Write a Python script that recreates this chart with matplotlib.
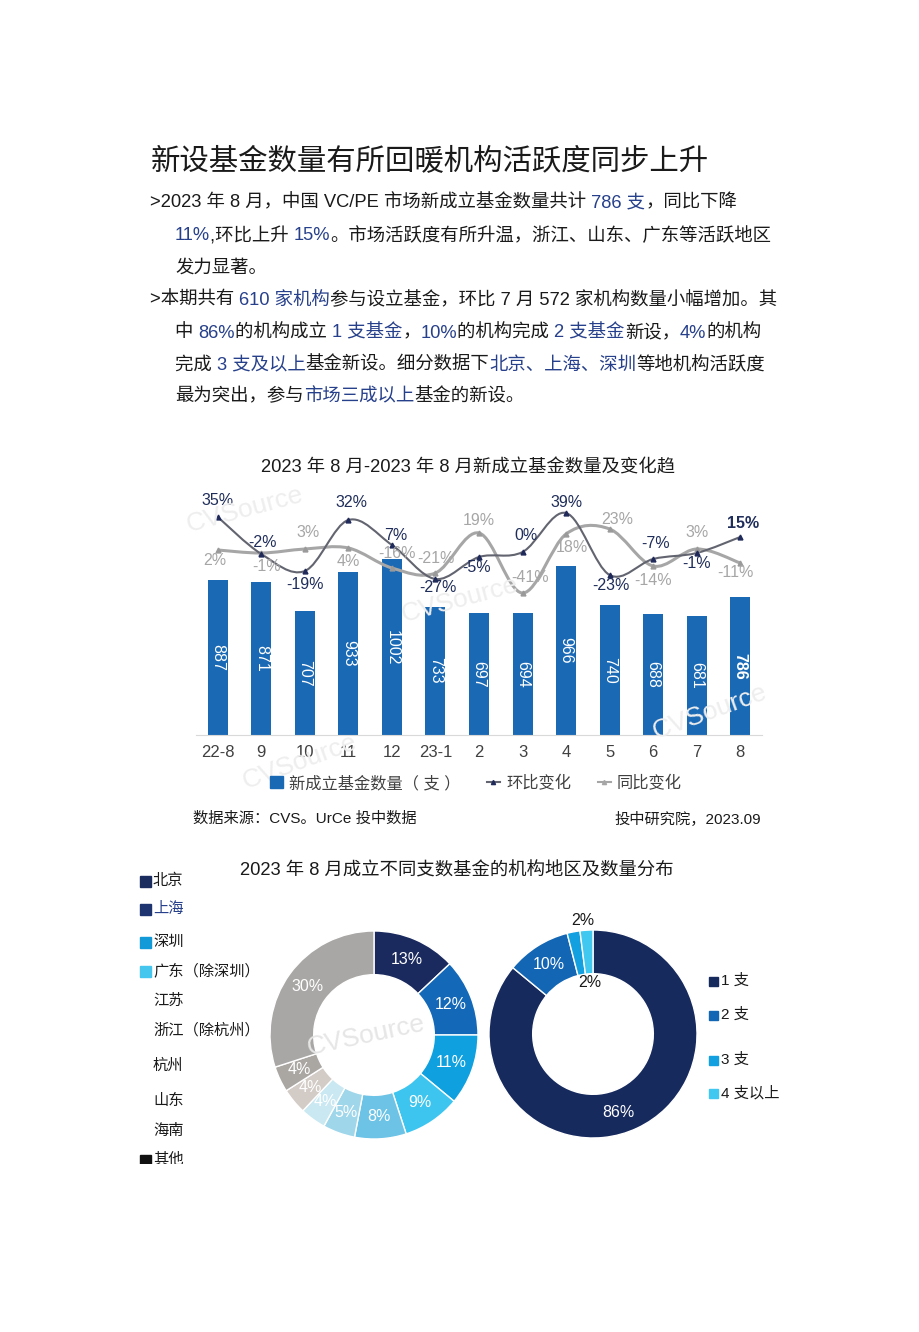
import matplotlib
matplotlib.use('Agg')
import matplotlib.pyplot as plt
from matplotlib.path import Path
from matplotlib.patches import PathPatch, Rectangle
from matplotlib.lines import Line2D
import numpy as np

plt.rcParams['font.family'] = ['Liberation Sans', 'Noto Sans CJK SC', 'DejaVu Sans']

# ---- data ----
months = ['22-8', '9', '10', '11', '12', '23-1', '2', '3', '4', '5', '6', '7', '8']
funds = [887, 871, 707, 933, 1002, 733, 697, 694, 966, 740, 688, 681, 786]
mom = [35, -2, -19, 32, 7, -27, -5, 0, 39, -23, -7, -1, 15]      # 环比
yoy = [2, -1, 3, 4, -16, -21, 19, -41, 18, 23, -14, 3, -11]      # 同比

regions = ['北京', '上海', '深圳', '广东（除深圳）', '江苏', '浙江（除杭州）',
           '杭州', '山东', '海南', '其他']
region_share = [13, 12, 11, 9, 8, 5, 4, 4, 4, 30]

fund_counts = ['1 支', '2 支', '3 支', '4 支以上']
count_share = [86, 10, 2, 2]

W, H = 920, 1332
BLUE = '#27408b'
TXT = '#1a1a1a'

fig = plt.figure(figsize=(W / 100, H / 100), dpi=100)
fig.patch.set_facecolor('white')
renderer = fig.canvas.get_renderer()


def fx(x):
    return x / W


def fy(y):
    return 1 - y / H


def rich_line(x, y, segs, size):
    # draw text segments of different colours one after another
    for s, c in segs:
        t = fig.text(fx(x), fy(y), s, color=c, fontsize=size, va='center', ha='left')
        bb = t.get_window_extent(renderer=renderer)
        x += bb.width


# ---- heading and paragraphs ----
fig.text(fx(151), fy(162), '新设基金数量有所回暖机构活跃度同步上升', fontsize=21.2,
         color=TXT, va='center', ha='left')

ps = 13.25
rich_line(150, 203, [('>2023 年 8 月，中国 VC/PE 市场新成立基金数量共计 ', TXT),
                     ('786 支', BLUE), ('，同比下降', TXT)], ps)
rich_line(175, 236, [('11%', BLUE), (',环比上升 ', TXT), ('15%', BLUE),
                     ('。市场活跃度有所升温，浙江、山东、广东等活跃地区', TXT)], ps)
rich_line(175, 268, [('发力显著。', TXT)], ps)
rich_line(150, 300, [('>本期共有 ', TXT), ('610 家机构', BLUE),
                     ('参与设立基金，环比 7 月 572 家机构数量小幅增加。其', TXT)], ps)
rich_line(175, 333, [('中 ', TXT), ('86%', BLUE), ('的机构成立 ', TXT), ('1 支基金', BLUE),
                     ('，', TXT), ('10%', BLUE), ('的机构完成 ', TXT), ('2 支基金', BLUE),
                     ('新设，', TXT), ('4%', BLUE), ('的机构', TXT)], ps)
rich_line(175, 365, [('完成 ', TXT), ('3 支及以上', BLUE), ('基金新设。细分数据下', TXT),
                     ('北京、上海、深圳', BLUE), ('等地机构活跃度', TXT)], ps)
rich_line(175, 397, [('最为突出，参与', TXT), ('市场三成以上', BLUE), ('基金的新设。', TXT)], ps)

# ---- bar + line chart ----
fig.text(fx(468), fy(468), '2023 年 8 月-2023 年 8 月新成立基金数量及变化趋', fontsize=13.2,
         color=TXT, ha='center', va='center')

# watermarks
for wx, wy, rot in [(245, 510, 15), (460, 600, 15), (710, 712, 20), (300, 762, 20)]:
    fig.text(fx(wx), fy(wy), 'CVSource', fontsize=19, color='#eeeeee', rotation=rot,
             ha='center', va='center', zorder=0.5)

ax = fig.add_axes([fx(196), fy(735), 566 / W, 240 / H])
ax.patch.set_alpha(0)
x = np.arange(len(months))
ax.bar(x, funds, width=0.46, color='#1a69b5', zorder=2)
ax.set_xlim(-0.5, len(months) - 0.5)
ax.set_ylim(0, 240 / 0.1752)
ax.set_yticks([])
ax.set_xticks(x)
ax.set_xticklabels(months, fontsize=12, color='#404040')
ax.tick_params(axis='x', length=0, pad=7)
for sp in ['top', 'left', 'right']:
    ax.spines[sp].set_visible(False)
ax.spines['bottom'].set_color('#d9d9d9')
for i, v in enumerate(funds):
    ax.text(i, v / 2, str(v), rotation=-90, ha='center', va='center', color='white',
            fontsize=11.5, fontweight='bold' if i == len(funds) - 1 else 'normal', zorder=3)

ax2 = ax.twinx()
ax2.set_ylim(-183, 57)
ax2.axis('off')


def smooth(ax_, xs, ys, color, lw):
    pts = np.column_stack([xs, ys]).astype(float)
    ext = np.vstack([pts[0], pts, pts[-1]])
    verts = [pts[0]]
    codes = [Path.MOVETO]
    for i in range(len(pts) - 1):
        p0, p1, p2, p3 = ext[i], ext[i + 1], ext[i + 2], ext[i + 3]
        verts += [p1 + (p2 - p0) / 6, p2 - (p3 - p1) / 6, p2]
        codes += [Path.CURVE4] * 3
    ax_.add_patch(PathPatch(Path(verts, codes), fc='none', ec=color, lw=lw, zorder=4))


smooth(ax2, x, yoy, '#a6a6a6', 2.2)
smooth(ax2, x, mom, '#62646f', 1.5)
ax2.plot(x, yoy, ls='none', marker='^', ms=3.5, color='#9a9a9a', zorder=5)
ax2.plot(x, mom, ls='none', marker='^', ms=3.5, color='#1f2a5a', zorder=5)

# label offsets in pixels (dx, dy up)
mom_off = [(0, 17), (1, 12), (0, -13), (3, 18), (4, 10), (2, -8), (-2, -10), (3, 17),
           (0, 11), (1, -10), (2, 16), (0, -10), (3, 14)]
yoy_off = [(-3, -10), (5, -13), (3, 17), (0, -13), (5, 15), (0, 15), (0, 13), (8, 16),
           (6, -13), (8, 10), (0, -14), (0, 17), (-5, -9)]
for i in range(len(months)):
    ax2.annotate('%d%%' % yoy[i], (x[i], yoy[i]), xytext=yoy_off[i], textcoords='offset pixels',
                 ha='center', va='center', fontsize=11.5, color='#a6a6a6', zorder=6)
    ax2.annotate('%d%%' % mom[i], (x[i], mom[i]), xytext=mom_off[i], textcoords='offset pixels',
                 ha='center', va='center', fontsize=11.5, color='#1f2d5a', zorder=6,
                 fontweight='bold' if i == len(months) - 1 else 'normal')

handles = [Rectangle((0, 0), 1, 1, color='#1a69b5'),
           Line2D([], [], color='#62646f', marker='^', ms=3, mfc='#1f2a5a', mec='#1f2a5a'),
           Line2D([], [], color='#a6a6a6', marker='^', ms=3)]
fig.legend(handles, ['新成立基金数量（ 支 ）', '环比变化', '同比变化'], loc='center',
           bbox_to_anchor=(fx(476), fy(783)), ncol=3, frameon=False, fontsize=11.7,
           labelcolor='#404040', handlelength=0.8, handleheight=0.75, handletextpad=0.4,
           columnspacing=1.6)

fig.text(fx(193), fy(819), '数据来源：CVS。UrCe 投中数据', fontsize=11, color=TXT, va='center')
fig.text(fx(761), fy(819), '投中研究院，2023.09', fontsize=11, color=TXT, va='center', ha='right')

# ---- donut charts ----
fig.text(fx(457), fy(871), '2023 年 8 月成立不同支数基金的机构地区及数量分布', fontsize=13.2,
         color=TXT, ha='center', va='center')

region_colors = ['#1b2a5e', '#1468b8', '#0fa0e0', '#3ec5ef', '#6cc3e6', '#9fd6ea',
                 '#c9e8f2', '#d2cbc6', '#aaa6a2', '#a9a7a5']
axd = fig.add_axes([fx(270), fy(1139), 208 / W, 208 / H])
wedges, _ = axd.pie(region_share, colors=region_colors, startangle=90, counterclock=False,
                    radius=1, wedgeprops=dict(width=0.42, edgecolor='white', linewidth=1))
for w, v in zip(wedges, region_share):
    a = np.deg2rad((w.theta1 + w.theta2) / 2)
    axd.text(0.79 * np.cos(a), 0.79 * np.sin(a), '%d%%' % v, ha='center', va='center',
             color='white', fontsize=11.5)
axd.set_aspect('equal')
axd.set_xlim(-1, 1)
axd.set_ylim(-1, 1)
fig.text(fx(366), fy(1036), 'CVSource', fontsize=19, color='#e6e6e6', rotation=12,
         ha='center', va='center')

count_colors = ['#172a5e', '#1266b4', '#12a0e0', '#40c8f0']
axr = fig.add_axes([fx(489), fy(1138), 208 / W, 208 / H])
wr, _ = axr.pie(count_share, colors=count_colors, startangle=90, counterclock=False,
                radius=1, wedgeprops=dict(width=0.42, edgecolor='white', linewidth=1))
lab_r = [0.79, 0.79, 1.1, 0.5]
lab_c = ['white', 'white', TXT, TXT]
for k, (w, v) in enumerate(zip(wr, count_share)):
    a = np.deg2rad((w.theta1 + w.theta2) / 2)
    if k == 2:
        a = np.deg2rad(95)
    if k == 0:
        a = np.deg2rad(-72)
    axr.text(lab_r[k] * np.cos(a), lab_r[k] * np.sin(a), '%d%%' % v, ha='center',
             va='center', color=lab_c[k], fontsize=11.5)
axr.set_aspect('equal')
axr.set_xlim(-1, 1)
axr.set_ylim(-1, 1)

# left legend (page is cut just below the last entry)
leg_y = [881, 909, 942, 971, 1001, 1030, 1066, 1101, 1131, 1160]
leg_sq = ['#1b2c5e', '#1d3470', '#1299d8', '#45c6ee', None, None, None, None, None, '#111111']
clip = Rectangle((0, fy(1164)), 1, 1 - fy(1164), transform=fig.transFigure)
for name, yy, c in zip(regions, leg_y, leg_sq):
    if c is not None:
        sq = Rectangle((fx(140), fy(yy + 6)), 11 / W, 11 / H, color=c,
                       transform=fig.transFigure)
        fig.add_artist(sq)
        sq.set_clip_path(clip)
    t = fig.text(fx(153), fy(yy), name, fontsize=11, va='center',
                 color=BLUE if name == '上海' else TXT)
    t.set_clip_path(clip)

# right legend
for name, yy, c in zip(fund_counts, [981, 1015, 1060, 1093], count_colors):
    fig.add_artist(Rectangle((fx(709), fy(yy + 5)), 9 / W, 9 / H, color=c,
                             transform=fig.transFigure))
    fig.text(fx(721), fy(yy), name, fontsize=11, va='center', color=TXT)

fig.savefig('out.png', dpi=100, facecolor='white')
